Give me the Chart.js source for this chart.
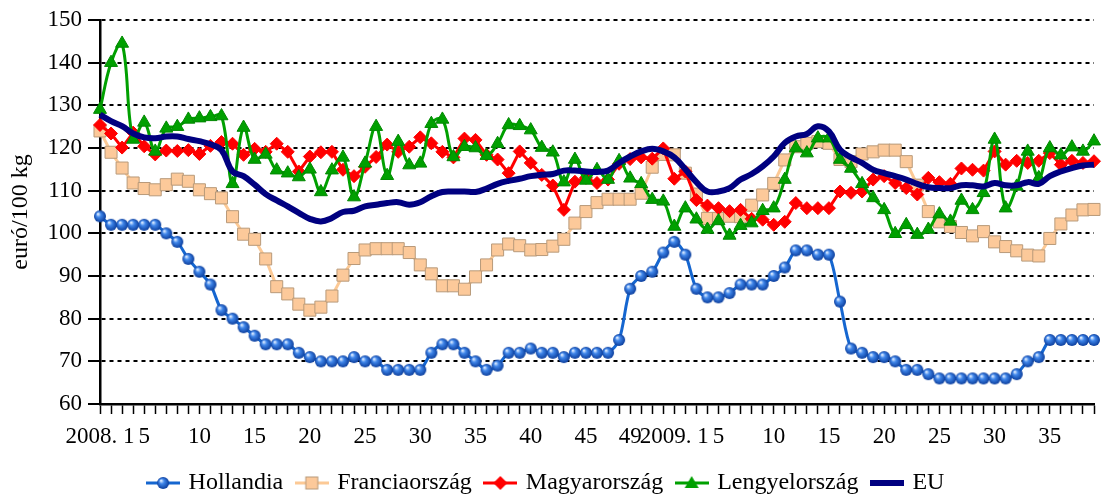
<!DOCTYPE html>
<html>
<head>
<meta charset="utf-8">
<script src="https://cdn.jsdelivr.net/npm/chart.js@4.4.1/dist/chart.umd.min.js"></script>
<style>
  html, body { margin: 0; padding: 0; background: #fff; }
  #wrap { width: 1105px; height: 497px; }
</style>
</head>
<body>
<div id="wrap"><canvas id="chart" width="1105" height="497"></canvas></div>
<script>
// weeks shown on the category axis
const year2008Weeks = 52;
const year2009Weeks = 39;
const shownWeeks2008 = [1, 5, 10, 15, 20, 25, 30, 35, 40, 45, 49];
const shownWeeks2009 = [1, 5, 10, 15, 20, 25, 30, 35];

// euró / 100 kg, weekly
const hollandia = [104, 102, 102, 102, 102, 102, 100, 98, 94, 91, 88, 82, 80, 78, 76, 74, 74, 74, 72, 71, 70, 70, 70, 71, 70,
  70, 68, 68, 68, 68, 72, 74, 74, 72, 70, 68, 69, 72, 72, 73, 72, 72, 71, 72, 72, 72, 72,
  75, 87, 90, 91, 95.5, 98, 95, 87, 85,
  85, 86, 88, 88, 88, 90, 92, 96, 96, 95, 95, 84, 73, 72, 71, 71, 70, 68, 68, 67, 66, 66, 66, 66, 66, 66, 66, 67, 70, 71, 75, 75, 75, 75, 75];

const franciaorszag = [124, 119, 115.3, 111.8, 110.5, 110.2, 111.4, 112.7, 112.2, 110.2, 109.3, 108.3,
  103.9, 99.8, 98.6, 94, 87.5, 85.8, 83.4, 82, 82.7, 85.3, 90.2, 94.1, 96.1,
  96.4, 96.4, 96.4, 95.5, 92.6, 90.5, 87.7, 87.7, 86.9, 89.8, 92.6,
  96.1, 97.5, 97.1, 96.1, 96.2, 97, 98.6, 102.4, 105.1, 107.2, 108,
  108, 108, 109.4, 115.5, 118.5, 118.4, 114.1, 109.2,
  103.5, 103.5, 104, 103.9, 106.6, 109, 111.7, 117.2, 120.3, 121.1, 121.5, 121.1,
  117.3, 116.8, 118.6, 119.1, 119.5, 119.5, 116.8, 111.3, 105.1, 102.7, 101.6,
  100.2, 99.4, 100.4, 98, 96.9, 95.9, 94.9, 94.7, 98.8, 102.2, 104.3, 105.5, 105.6];

const magyarorszag = [125.4, 123.4, 120.1, 123.6, 120.4, 118.5, 119.4, 119.3, 119.5, 118.6, 120.5, 121.4,
  121, 118.4, 119.8, 119.1, 121, 119.1, 114.5, 118, 119, 119.1, 114.9, 113.4, 115.6,
  117.9, 120.8, 119.1, 120.3, 122.5, 121.1, 119.1, 117.8, 122.2, 121.9, 118.4,
  117.3, 114.1, 119.2, 116.5, 113.7, 111.2, 105.5, 112.1, 113, 111.8, 112.6,
  116.3, 117.4, 117.8, 117.5, 119.9, 112.8, 114.5, 107.8,
  106.5, 105.9, 105.2, 105.5, 103.4, 103.2, 102, 102.7, 107.1, 105.9, 105.9, 105.9,
  109.8, 109.5, 109.8, 112.6, 113.4, 111.8, 110.6, 109.1, 113, 112, 111.6,
  115.2, 114.9, 114.7, 119.2, 116.1, 117, 116.5, 117, 118.8, 116.1, 117, 116.5, 116.9];

const lengyelorszag = [129, 140, 144.5, 122, 126, 119.2, 124.6, 125, 126.7, 127, 127.3, 127.5,
  111.6, 124.8, 117.3, 118.5, 114.8, 114.1, 113.2, 115, 109.7, 114.8, 117.8, 108.5, 116.4,
  125, 113.5, 121.5, 116, 116.4, 125.7, 126.7, 117.9, 120.3, 120, 118.2,
  121, 125.4, 125.2, 124.2, 120.1, 119, 112, 117.3, 112.4, 114.9, 112.6,
  117, 112.9, 111.6, 107.9, 107.5, 101.6, 105.9, 103.3,
  100.9, 102.9, 99.5, 101.8, 102.4, 105.3, 105.9, 112.6, 120, 118.8, 122.3, 122.3,
  117.3, 115.2, 111.6, 108.3, 105.5, 99.9, 102, 99.7, 100.9, 104.5, 102.8,
  107.7, 105.5, 109.5, 122, 105.9, 111, 119.2, 113, 120, 118.3, 120.2, 119.2, 121.6];

const eu = [127.8, 126.3, 125.1, 123.4, 122.5, 122.3, 122.7, 122.7, 122.1, 121.6, 120.9, 119.5,
  114.5, 113.4, 111.4, 109.2, 107.7, 106.3, 104.8, 103.4, 102.8, 103.6, 105, 105.3, 106.3,
  106.7, 107.1, 107.3, 106.7, 107.3, 108.7, 109.7, 109.8, 109.8, 109.7, 110.5,
  111.6, 112.3, 112.8, 113.4, 113.75, 113.9, 114.7, 114.7, 114.5, 114.4, 114.7,
  116.5, 118, 119.2, 119.8, 119.2, 117.8, 115, 112,
  109.8, 109.8, 110.6, 112.6, 113.9, 115.7, 118, 121.2, 122.7, 123.3, 125.1, 123.9,
  119.6, 117.8, 116.5, 114.9, 114.1, 113.4, 112.6, 111.6, 110.8, 110.6, 110.6,
  111.25, 111.25, 111, 111.8, 111.25, 111.25, 112, 111.6, 113.4, 114.5, 115.3, 115.9, 116.1];

// category labels + the text printed under each tick
const categories = [];
const tickText = [];
for (let w = 1; w <= year2008Weeks; w++) {
  categories.push('2008. ' + w);
  tickText.push(w === 1 ? '2008. 1' : (shownWeeks2008.includes(w) ? String(w) : ''));
}
for (let w = 1; w <= year2009Weeks; w++) {
  categories.push('2009. ' + w);
  tickText.push(w === 1 ? '2009. 1' : (shownWeeks2009.includes(w) ? String(w) : ''));
}

const FONT = 'Liberation Serif, Times New Roman, serif';
const LEGEND_PAD = 15;

// shaded blue ball used as Hollandia marker
function makeBall(r) {
  const c = document.createElement('canvas');
  const s = r * 2 + 2;
  c.width = s; c.height = s;
  const g = c.getContext('2d');
  const m = s / 2;
  const grad = g.createRadialGradient(m - r * 0.35, m - r * 0.4, r * 0.1, m, m, r);
  grad.addColorStop(0, '#d4e6ff');
  grad.addColorStop(0.35, '#3f86ea');
  grad.addColorStop(1, '#0b3d9c');
  g.fillStyle = grad;
  g.beginPath();
  g.arc(m, m, r, 0, Math.PI * 2);
  g.fill();
  return c;
}
const ball = makeBall(6);

// legend icon: short line with the marker in the middle
function makeIcon(color, lw, marker) {
  const c = document.createElement('canvas');
  c.width = 34; c.height = 18;
  const g = c.getContext('2d');
  g.strokeStyle = color;
  g.lineWidth = lw;
  g.beginPath();
  g.moveTo(0, 9); g.lineTo(34, 9);
  g.stroke();
  if (marker) marker(g, 17, 9);
  return c;
}
const legendIcons = [
  makeIcon('#1566d0', 3, (g, x, y) => g.drawImage(ball, x - ball.width / 2, y - ball.height / 2)),
  makeIcon('#fcc995', 3, (g, x, y) => {
    g.fillStyle = '#fcc99a'; g.strokeStyle = '#b89a7a'; g.lineWidth = 1;
    g.fillRect(x - 6, y - 6, 12, 12); g.strokeRect(x - 6, y - 6, 12, 12);
  }),
  makeIcon('#ff0000', 3, (g, x, y) => {
    g.fillStyle = '#ff0000';
    g.beginPath(); g.moveTo(x - 7, y); g.lineTo(x, y - 7); g.lineTo(x + 7, y); g.lineTo(x, y + 7); g.closePath(); g.fill();
  }),
  makeIcon('#00a000', 3, (g, x, y) => {
    g.fillStyle = '#00a000';
    g.beginPath(); g.moveTo(x, y - 7); g.lineTo(x + 7, y + 5); g.lineTo(x - 7, y + 5); g.closePath(); g.fill();
  }),
  makeIcon('#000080', 6, null)
];

new Chart(document.getElementById('chart'), {
  type: 'line',
  data: {
    labels: categories,
    datasets: [
      {
        label: 'Hollandia', data: hollandia, order: 5,
        borderColor: '#1566d0', borderWidth: 3, tension: 0.3,
        pointStyle: ball, pointRadius: 6
      },
      {
        label: 'Franciaország', data: franciaorszag, order: 4,
        borderColor: '#fcc995', borderWidth: 3, tension: 0,
        pointStyle: 'rect', pointRadius: 8.5,
        pointBackgroundColor: '#fcc99a', pointBorderColor: '#b89a7a', pointBorderWidth: 1
      },
      {
        label: 'Magyarország', data: magyarorszag, order: 3,
        borderColor: '#ff0000', borderWidth: 3, tension: 0,
        pointStyle: 'rectRot', pointRadius: 6.5,
        pointBackgroundColor: '#ff0000', pointBorderColor: '#ff0000', pointBorderWidth: 1
      },
      {
        label: 'Lengyelország', data: lengyelorszag, order: 2,
        borderColor: '#00a000', borderWidth: 3, tension: 0.4,
        pointStyle: 'triangle', pointRadius: 7.5,
        pointBackgroundColor: '#00a000', pointBorderColor: '#008800', pointBorderWidth: 1
      },
      {
        label: 'EU', data: eu, order: 1,
        borderColor: '#000080', borderWidth: 6, tension: 0.4,
        pointRadius: 0
      }
    ]
  },
  options: {
    responsive: false,
    animation: false,
    devicePixelRatio: 1,
    layout: { padding: { left: 0, right: 11, top: 20, bottom: -8 } },
    plugins: {
      tooltip: { enabled: false },
      legend: {
        position: 'bottom',
        labels: {
          usePointStyle: true,
          pointStyleWidth: 27,
          padding: LEGEND_PAD,
          color: '#000',
          font: { family: FONT, size: 24 },
          generateLabels: chart => chart.data.datasets.map((ds, i) => ({
            text: ds.label,
            pointStyle: legendIcons[i],
            fillStyle: 'rgba(0,0,0,0)',
            strokeStyle: 'rgba(0,0,0,0)',
            lineWidth: 0,
            hidden: false,
            datasetIndex: i,
            fontColor: '#000'
          }))
        }
      }
    },
    scales: {
      x: {
        offset: false,
        // plot bottom stays at y = 404 whatever the legend padding
        afterFit: s => { s.height = 101 - (24 + LEGEND_PAD + 10); },
        grid: { display: true, drawOnChartArea: false, drawTicks: true, tickLength: 10, tickColor: '#000', tickWidth: 1.5 },
        border: { display: true, color: '#000', width: 2.5 },
        ticks: {
          autoSkip: false, maxRotation: 0, minRotation: 0, padding: 9,
          color: '#000', font: { family: FONT, size: 23 },
          callback: (v, i) => tickText[i]
        }
      },
      y: {
        min: 60, max: 150,
        afterFit: s => { s.width = 100; },
        grid: { color: '#000', lineWidth: 2, tickLength: 12, tickColor: '#000', tickWidth: 2 },
        border: { display: true, color: '#000', width: 2.5, dash: [4, 4] },
        ticks: { stepSize: 10, padding: 6, color: '#000', font: { family: FONT, size: 23 } },
        title: {
          display: true, text: 'euró/100 kg', color: '#000',
          font: { family: FONT, size: 24 }, padding: { top: 6, bottom: 0 }
        }
      }
    }
  }
});
</script>
</body>
</html>
